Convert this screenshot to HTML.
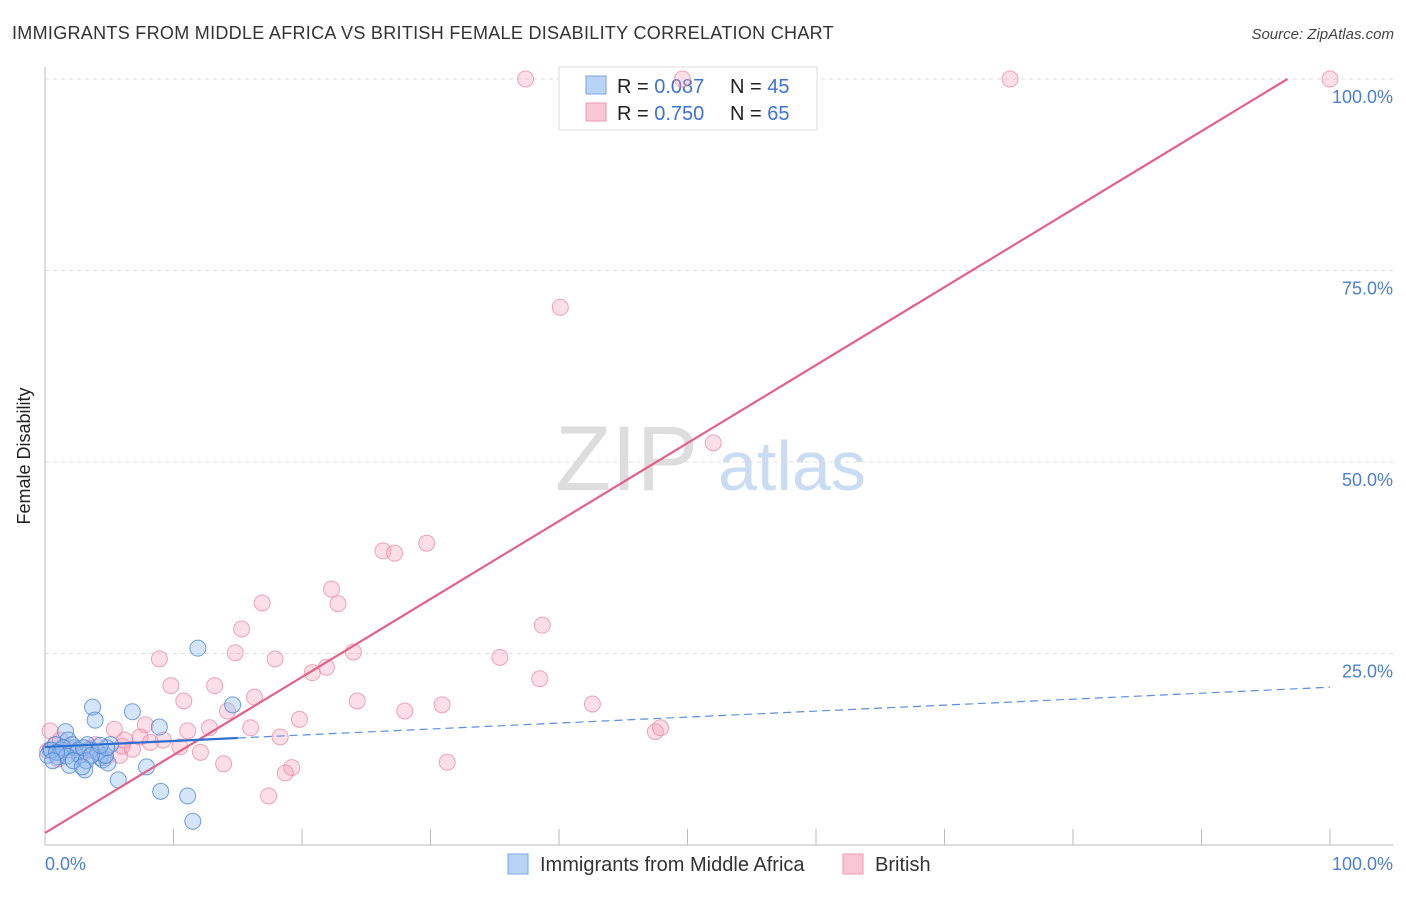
<!DOCTYPE html>
<html><head><meta charset="utf-8"><style>
body{margin:0;background:#fff;font-family:"Liberation Sans",sans-serif}
svg text{font-family:"Liberation Sans",sans-serif}
</style></head><body>
<svg width="1406" height="892" viewBox="0 0 1406 892">
<text x="12" y="39" font-size="18" fill="#333" letter-spacing="0.3">IMMIGRANTS FROM MIDDLE AFRICA VS BRITISH FEMALE DISABILITY CORRELATION CHART</text>
<text x="1394" y="39" font-size="15" fill="#444" text-anchor="end" font-style="italic">Source: ZipAtlas.com</text>
<g><text x="555" y="490" font-size="92" fill="#ddd" font-family="Liberation Serif">ZIP</text><text x="718" y="490" font-size="70" fill="#c9dcf2">atlas</text></g>
<g id="grid"></g>
<line x1="45" y1="67" x2="45" y2="845" stroke="#bbb"/>
<line x1="45" y1="845" x2="1393" y2="845" stroke="#bbb"/>
<text x="30" y="456" font-size="18" fill="#222" transform="rotate(-90 30 456)" text-anchor="middle">Female Disability</text>
<text x="45" y="870" font-size="18" fill="#4a7fd0">0.0%</text>
<text x="1393" y="870" font-size="18" fill="#4a7fd0" text-anchor="end">100.0%</text>
<g>
<rect x="559" y="67" width="258" height="63" fill="#fff" stroke="#ddd"/>
<rect x="586" y="76" width="20" height="18" fill="#b8d3f5" stroke="#7aa6e0"/>
<rect x="586" y="103" width="20" height="18" fill="#f9c6d4" stroke="#ee9ab2"/>
<text x="617" y="93" font-size="20" fill="#222">R = <tspan fill="#3b73d0">0.087</tspan><tspan x="730">N = </tspan><tspan fill="#3b73d0">45</tspan></text>
<text x="617" y="120" font-size="20" fill="#222">R = <tspan fill="#3b73d0">0.750</tspan><tspan x="730">N = </tspan><tspan fill="#3b73d0">65</tspan></text>
</g>
<g id="pts"></g>
<g id="lines"></g>
<g>
<rect x="508" y="854" width="20" height="20" fill="#b8d3f5" stroke="#7aa6e0"/>
<text x="540" y="871" font-size="20" fill="#333">Immigrants from Middle Africa</text>
<rect x="843" y="854" width="20" height="20" fill="#f9c6d4" stroke="#ee9ab2"/>
<text x="875" y="871" font-size="20" fill="#333">British</text>
</g>
</svg>
<script>
const yTicks=[25,50,75,100];
const yTickLabels=["25.0%","50.0%","75.0%","100.0%"];
const xTicks=[0,10,20,30,40,50,60,70,80,90,100];
const blueX=[0.4,0.8,1.2,1.6,1.8,1.9,2.3,2.7,3.1,3.3,3.5,3.7,3.9,4.3,4.5,4.9,5.1,5.7,6.8,7.9,8.9,9.0,11.1,11.5,11.9,14.6,0.2,0.5,1.0,1.3,2.1,2.6,3.0,4.1,4.7,4.8,1.4,1.7,2.2,3.2,3.6,0.9,0.6,4.3,2.9];
const blueY=[12.4,13.1,12.1,14.8,13.7,10.4,12.7,11.7,9.8,13.1,12.4,18.0,16.3,11.4,11.1,10.7,13.1,8.5,17.4,10.2,15.4,7.0,6.4,3.1,25.7,18.3,11.7,12.4,11.5,12.4,13.1,12.4,12.7,12.1,11.7,12.7,12.7,11.6,11.0,11.0,11.7,12.1,11.0,13.0,10.2];
const pinkX=[37.4,49.6,75.1,100,40.1,52.0,26.3,27.2,29.7,16.9,22.3,22.8,38.7,15.3,8.9,14.8,17.9,24.0,35.4,21.9,20.8,9.8,13.2,38.5,16.3,10.8,24.3,14.2,28.0,30.9,42.6,19.8,5.4,7.8,11.1,12.8,16.0,9.2,18.3,47.5,47.9,6.2,6.8,10.5,12.1,0.4,0.8,13.9,19.2,18.7,17.4,31.3,1.2,1.9,3.1,3.9,4.7,7.4,8.2,5.8,0.2,2.5,3.5,1.0,6.0];
const pinkY=[100,100,100,100,70.2,52.5,38.4,38.1,39.4,31.6,33.4,31.5,28.7,28.2,24.3,25.1,24.3,25.2,24.5,23.2,22.5,20.8,20.8,21.7,19.3,18.8,18.8,17.5,17.5,18.3,18.4,16.4,15.1,15.7,14.9,15.3,15.3,13.7,14.1,14.8,15.3,13.7,12.5,12.8,12.1,14.9,13.1,10.6,10.1,9.4,6.4,10.8,13.7,12.7,12.1,13.1,11.4,14.1,13.4,11.7,12.3,11.9,12.6,11.2,12.9];
const pinkLine=[1.57,1.018];
const blueLine=[12.8,0.078];
const blueSolidEnd=15;
const NS="http://www.w3.org/2000/svg";
const sx=v=>45+v*12.85, sy=v=>845-v*7.66;
function mk(t,a,p){const e=document.createElementNS(NS,t);for(const k in a)e.setAttribute(k,a[k]);p.appendChild(e);return e;}
const grid=document.getElementById('grid');
yTicks.forEach((t,i)=>{
 const l=mk('line',{x1:45,x2:1393,y1:sy(t),y2:sy(t),stroke:'#ddd','stroke-dasharray':'4,4'},grid);
 
 
 const tx=mk('text',{x:1393,y:sy(t)+24,'font-size':18,fill:'#4a7fd0','text-anchor':'end'},grid);
 tx.textContent=yTickLabels[i];
 
 
});
xTicks.forEach(t=>{
 const l=mk('line',{x1:sx(t),x2:sx(t),y1:829,y2:845,stroke:'#bbb'},grid);
 
 
});
const pts=document.getElementById('pts');
pinkX.forEach((x,i)=>{
 const c=mk('circle',{cx:sx(x),cy:sy(pinkY[i]),r:8,fill:'rgba(244,160,185,0.35)',stroke:'rgba(232,130,160,0.7)','stroke-width':1},pts);
 
 
});
blueX.forEach((x,i)=>{
 const c=mk('circle',{cx:sx(x),cy:sy(blueY[i]),r:8,fill:'rgba(150,190,240,0.4)',stroke:'rgba(70,130,210,0.75)','stroke-width':1},pts);
 
 
});
const lines=document.getElementById('lines');
const pEnd=(100-pinkLine[0])/pinkLine[1];
const pl=mk('line',{x1:sx(0),y1:sy(pinkLine[0]),x2:sx(pEnd),y2:sy(100),stroke:'#e4608a','stroke-width':2.2},lines);


const bs=mk('line',{x1:sx(0),y1:sy(blueLine[0]),x2:sx(blueSolidEnd),y2:sy(blueLine[0]+blueLine[1]*blueSolidEnd),stroke:'#2f6fd0','stroke-width':2.2},lines);


const bd=mk('line',{x1:sx(blueSolidEnd),y1:sy(blueLine[0]+blueLine[1]*blueSolidEnd),x2:sx(100),y2:sy(blueLine[0]+blueLine[1]*100),stroke:'#5a8fdc','stroke-width':1.2,'stroke-dasharray':'8,5'},lines);


</script>
</body></html>
